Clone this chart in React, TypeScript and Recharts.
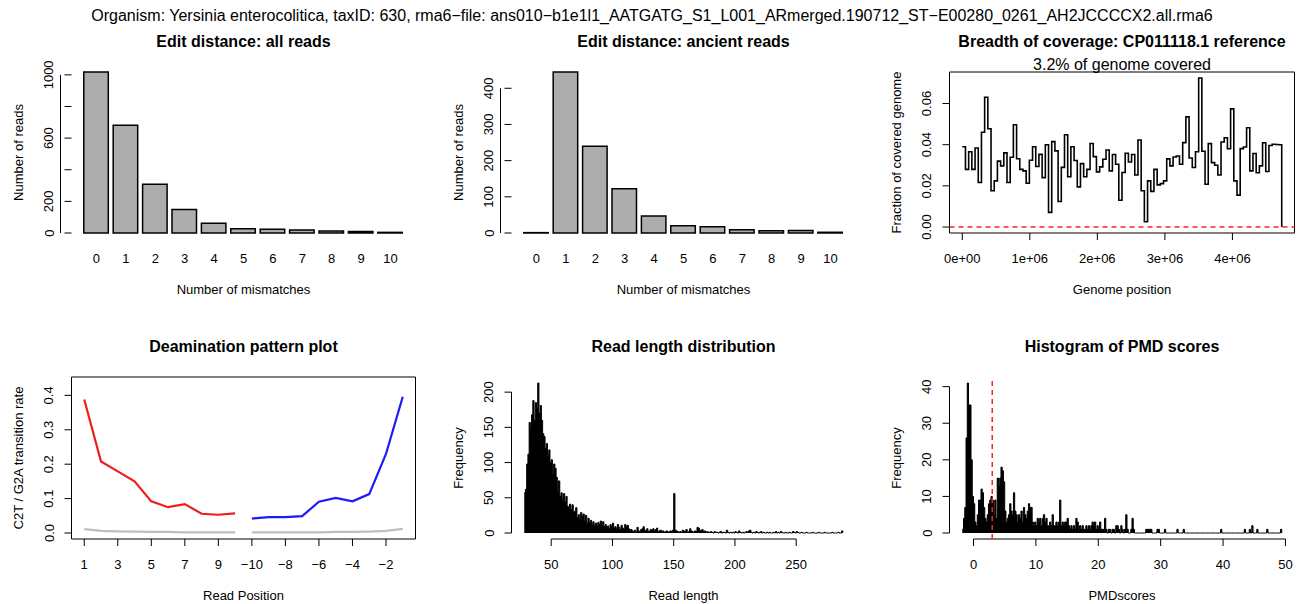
import React from 'react';
import {
  ComposedChart,
  Bar,
  Line,
  Area,
  XAxis,
  YAxis,
  ReferenceLine,
  ReferenceArea,
} from 'recharts';

const W = 1304;
const H = 604;
const FONT = '"Liberation Sans", Arial, Helvetica, sans-serif';

// Edit distance (barplots)
const mismatchLabels = ['0', '1', '2', '3', '4', '5', '6', '7', '8', '9', '10'];
const allReadCounts = [1018, 681, 308, 148, 62, 27, 23, 19, 13, 10, 4];
const ancientReadCounts = [1, 445, 240, 122, 47, 20, 17, 9, 6, 7, 2];
const allReadTicks = [0, 200, 400, 600, 800, 1000];
const allReadTickLabels = ['0', '200', '', '600', '', '1000'];
const ancientTicks = [0, 100, 200, 300, 400];
const ancientTickLabels = ['0', '100', '200', '300', '400'];

// Breadth of coverage (one value per genome bin)
const coverageBinWidth = 47300;
const coverageFraction = [
  0.039, 0.028, 0.0366, 0.028, 0.0384, 0.0216, 0.046, 0.063, 0.0477, 0.0176,
  0.0224, 0.032, 0.0297, 0.036, 0.0216, 0.0339, 0.0497, 0.0332, 0.028, 0.0273,
  0.0213, 0.0324, 0.039, 0.0294, 0.0353, 0.024, 0.04, 0.0071, 0.0415, 0.037,
  0.0124, 0.029, 0.0448, 0.0244, 0.039, 0.0323, 0.0195, 0.0308, 0.0244, 0.028,
  0.0406, 0.0342, 0.0268, 0.0292, 0.0329, 0.0374, 0.0273, 0.0352, 0.0305, 0.013,
  0.0265, 0.0358, 0.0316, 0.0352, 0.0253, 0.0423, 0.0176, 0.0026, 0.0224, 0.0173,
  0.028, 0.0205, 0.0211, 0.0224, 0.0331, 0.0297, 0.034, 0.0345, 0.0305, 0.041,
  0.0535, 0.0335, 0.0289, 0.0366, 0.0724, 0.0368, 0.0208, 0.0405, 0.0313, 0.03,
  0.0253, 0.0413, 0.0434, 0.038, 0.0574, 0.0224, 0.0155, 0.0381, 0.0389, 0.0482,
  0.0273, 0.0357, 0.0264, 0.0297, 0.0409, 0.027, 0.0396, 0.0402, 0.0401, 0.04,
];
const coverageXTicks = [0, 1e6, 2e6, 3e6, 4e6];
const coverageXTickLabels = ['0e+00', '1e+06', '2e+06', '3e+06', '4e+06'];
const coverageYTicks = [0, 0.02, 0.04, 0.06];
const coverageYTickLabels = ['0.00', '0.02', '0.04', '0.06'];

// Deamination pattern
const readPositions = [1, 2, 3, 4, 5, 6, 7, 8, 9, 10, 11, 12, 13, 14, 15, 16, 17, 18, 19, 20];
const c2tRate = [0.388, 0.208, 0.179, 0.15, 0.092, 0.075, 0.084, 0.056, 0.053, 0.057];
const g2aRate = [0.042, 0.046, 0.046, 0.049, 0.091, 0.102, 0.092, 0.113, 0.23, 0.396];
const c2tOther = [0.011, 0.006, 0.005, 0.004, 0.003, 0.003, 0.002, 0.002, 0.002, 0.002];
const g2aOther = [0.002, 0.002, 0.002, 0.002, 0.002, 0.003, 0.003, 0.004, 0.006, 0.012];
const deamYMax = 0.436;
const deamXTicks = [1, 3, 5, 7, 9, 11, 13, 15, 17, 19];
const deamXTickLabels = ['1', '3', '5', '7', '9', '\u221210', '\u22128', '\u22126', '\u22124', '\u22122'];
const deamYTicks = [0, 0.1, 0.2, 0.3, 0.4];
const deamYTickLabels = ['0.0', '0.1', '0.2', '0.3', '0.4'];

// Read length histogram (bins of 1, first bin starts at 28)
const readLengthFirst = 28;
const readLengthCounts = [
  57, 62, 98, 112, 157, 150, 168, 188, 160, 185,
  176, 213, 170, 181, 160, 141, 137, 120, 127, 110,
  118, 100, 104, 85, 98, 92, 79, 60, 74, 52,
  57, 48, 56, 44, 52, 38, 35, 41, 33, 40,
  29, 31, 36, 22, 26, 20, 29, 24, 27, 18,
  25, 14, 21, 15, 18, 12, 16, 11, 14, 10,
  15, 12, 17, 11, 16, 9, 12, 8, 10, 6,
  12, 9, 14, 7, 9, 6, 12, 8, 5, 11,
  7, 5, 12, 9, 11, 6, 4, 5, 3, 2,
  4, 1, 8, 3, 2, 5, 6, 9, 4, 3,
  6, 2, 3, 5, 4, 6, 3, 5, 7, 2,
  3, 4, 2, 3, 1, 2, 3, 1, 2, 3,
  2, 4, 56, 4, 3, 2, 1, 2, 1, 4,
  3, 2, 5, 1, 2, 6, 3, 2, 1, 3,
  2, 8, 7, 4, 3, 5, 2, 3, 1, 2,
  1, 1, 2, 1, 0, 2, 1, 1, 0, 1,
  2, 0, 1, 1, 0, 4, 1, 0, 1, 0,
  1, 0, 2, 1, 0, 3, 1, 0, 1, 0,
  1, 2, 1, 3, 4, 1, 0, 1, 0, 2,
  1, 0, 1, 2, 0, 1, 0, 0, 1, 0,
  1, 0, 0, 1, 0, 2, 0, 1, 0, 2,
  1, 0, 0, 1, 0, 0, 1, 0, 0, 2,
  1, 0, 2, 1, 0, 0, 1, 0, 0, 0,
  1, 0, 0, 0, 0, 1, 0, 0, 0, 0,
  1, 0, 0, 0, 0, 1, 0, 0, 0, 0,
  0, 1, 0, 0, 0, 0, 1, 0, 0, 3,
];
const readLengthXTicks = [50, 100, 150, 200, 250];
const readLengthYTicks = [0, 50, 100, 150, 200];

// PMD score histogram (bins of 0.2, first bin starts at -1.8)
const pmdFirst = -1.8;
const pmdBinWidth = 0.2;
const pmdThreshold = 3;
const pmdCounts = [
  1, 4, 7, 26, 41, 35, 35, 20, 10, 8,
  3, 2, 5, 9, 9, 12, 11, 7, 4, 3,
  5, 8, 9, 10, 9, 5, 9, 4, 15, 13,
  15, 18, 17, 14, 6, 3, 4, 5, 8, 6,
  5, 11, 6, 5, 3, 5, 4, 6, 3, 7,
  5, 4, 6, 8, 7, 7, 3, 2, 3, 2,
  4, 3, 4, 2, 4, 5, 3, 4, 2, 2,
  3, 2, 5, 2, 2, 3, 2, 3, 9, 2,
  3, 2, 3, 3, 4, 2, 1, 2, 1, 2,
  1, 4, 3, 1, 2, 1, 2, 1, 1, 2,
  1, 2, 1, 2, 3, 2, 3, 1, 2, 1,
  3, 1, 1, 1, 4, 1, 0, 1, 1, 0,
  1, 1, 0, 2, 2, 1, 0, 2, 1, 0,
  1, 5, 1, 0, 0, 1, 4, 1, 0, 0,
  0, 0, 0, 0, 0, 0, 0, 1, 1, 1,
  1, 1, 0, 0, 0, 0, 1, 1, 0, 0,
  0, 0, 1, 0, 0, 0, 0, 0, 0, 0,
  0, 0, 1, 0, 0, 0, 0, 1, 0, 0,
  0, 0, 0, 0, 0, 0, 0, 0, 0, 0,
  0, 0, 0, 0, 0, 0, 0, 0, 0, 0,
  0, 0, 0, 0, 0, 0, 0, 1, 0, 0,
  0, 0, 0, 0, 0, 0, 0, 0, 0, 0,
  0, 0, 0, 0, 0, 0, 1, 0, 0, 0,
  1, 0, 2, 0, 0, 0, 1, 0, 0, 0,
  0, 0, 0, 0, 1, 0, 0, 0, 0, 0,
  0, 0, 0, 0, 0, 1,
];
const pmdXTicks = [0, 10, 20, 30, 40, 50];
const pmdYTicks = [0, 10, 20, 30, 40];

// ---- layout (plot regions, px) ----
const COLS: [number, number][] = [[71.5, 415.5], [511.5, 855.5], [949.5, 1294.5]];
const ROWS: [number, number][] = [[72, 233], [377, 539]];
const YAXW = 40;
const XAXH = 40;
const TICK = 7;

const marginFor = (c: number, r: number) => ({
  top: ROWS[r][0],
  bottom: H - ROWS[r][1] - XAXH,
  left: COLS[c][0] - YAXW,
  right: W - COLS[c][1],
});

// R style "r" axis range: 4% extension on both sides
const ext = (lo: number, hi: number): [number, number] => {
  const d = (hi - lo) * 0.04;
  return [lo - d, hi + d];
};

const labelOf = (ticks: any[], labels: string[]) => (v: any) => {
  const i = ticks.indexOf(v);
  return i >= 0 ? labels[i] : String(v);
};

const xTick = (fmt: (v: any) => string, mark = true) => (p: any) => (
  <g>
    {mark && <line x1={p.x} y1={p.y} x2={p.x} y2={p.y + TICK} stroke="#000" strokeWidth={1} />}
    <text x={p.x} y={p.y + 29.5} textAnchor="middle" fontSize={13} fontFamily={FONT} fill="#000">
      {fmt(p.payload.value)}
    </text>
  </g>
);

const yTick = (fmt: (v: any) => string) => (p: any) => {
  const label = fmt(p.payload.value);
  const tx = p.x - 18;
  return (
    <g>
      <line x1={p.x - TICK} y1={p.y} x2={p.x} y2={p.y} stroke="#000" strokeWidth={1} />
      {label !== '' && (
        <text
          x={tx}
          y={p.y}
          transform={`rotate(-90 ${tx} ${p.y})`}
          textAnchor="middle"
          fontSize={13}
          fontFamily={FONT}
          fill="#000"
        >
          {label}
        </text>
      )}
    </g>
  );
};

const axisBase = {
  axisLine: false,
  tickLine: false,
  tickSize: 0,
  tickMargin: 0,
  interval: 0 as const,
};

const Layer: React.FC<{ children: React.ReactNode }> = ({ children }) => (
  <div style={{ position: 'absolute', left: 0, top: 0, width: W, height: H }}>{children}</div>
);

// ---- barplot panel ----
const EditDistance: React.FC<{
  col: number;
  counts: number[];
  ticks: number[];
  tickLabels: string[];
}> = ({ col, counts, ticks, tickLabels }) => {
  const data = mismatchLabels.map((m, i) => ({ mm: m, n: counts[i] }));
  const nBars = counts.length;
  const xRange = ext(0.2, 0.2 + 1.2 * nBars - 0.2);
  const unitPx = (COLS[col][1] - COLS[col][0]) / (xRange[1] - xRange[0]);
  const pad = (0.1 - xRange[0]) * unitPx;
  const yMax = Math.max(...counts);
  return (
    <Layer>
      <ComposedChart width={W} height={H} margin={marginFor(col, 0)} data={data}>
        <XAxis
          xAxisId="cat"
          dataKey="mm"
          type="category"
          padding={{ left: pad, right: pad }}
          height={XAXH}
          tick={xTick((v) => String(v), false)}
          {...axisBase}
        />
        <XAxis xAxisId="num" type="number" domain={xRange} allowDataOverflow hide />
        <YAxis
          type="number"
          domain={[0, yMax]}
          ticks={ticks}
          width={YAXW}
          tick={yTick(labelOf(ticks, tickLabels))}
          {...axisBase}
        />
        <Bar
          xAxisId="cat"
          dataKey="n"
          fill="#adadad"
          stroke="#000"
          strokeWidth={1.5}
          barSize={unitPx}
          isAnimationActive={false}
        />
        <ReferenceLine
          xAxisId="num"
          segment={[
            { x: xRange[0], y: ticks[0] },
            { x: xRange[0], y: ticks[ticks.length - 1] },
          ]}
          stroke="#000"
          strokeWidth={1}
          ifOverflow="visible"
        />
      </ComposedChart>
    </Layer>
  );
};

// ---- coverage panel ----
const Coverage: React.FC = () => {
  const n = coverageFraction.length;
  const data = [
    ...coverageFraction.map((f, i) => ({ pos: i * coverageBinWidth, f })),
    { pos: n * coverageBinWidth, f: 0 },
  ];
  const xDom = ext(0, n * coverageBinWidth);
  const yDom = ext(0, Math.max(...coverageFraction));
  return (
    <Layer>
      <ComposedChart width={W} height={H} margin={marginFor(2, 0)} data={data}>
        <XAxis
          dataKey="pos"
          type="number"
          domain={xDom}
          ticks={coverageXTicks}
          allowDataOverflow
          height={XAXH}
          tick={xTick(labelOf(coverageXTicks, coverageXTickLabels))}
          {...axisBase}
        />
        <YAxis
          type="number"
          domain={yDom}
          ticks={coverageYTicks}
          allowDataOverflow
          width={YAXW}
          tick={yTick(labelOf(coverageYTicks, coverageYTickLabels))}
          {...axisBase}
        />
        <ReferenceArea
          x1={xDom[0]}
          x2={xDom[1]}
          y1={yDom[0]}
          y2={yDom[1]}
          fill="none"
          stroke="#000"
          strokeWidth={1}
          ifOverflow="visible"
        />
        <ReferenceLine y={0} stroke="#ff2020" strokeWidth={1.5} strokeDasharray="5 4" />
        <Line
          dataKey="f"
          type="stepAfter"
          stroke="#000"
          strokeWidth={1.6}
          dot={false}
          isAnimationActive={false}
        />
      </ComposedChart>
    </Layer>
  );
};

// ---- deamination panel ----
const Deamination: React.FC = () => {
  const data = readPositions.map((p, i) => ({
    pos: p,
    c2t: i < 10 ? c2tRate[i] : null,
    g2a: i >= 10 ? g2aRate[i - 10] : null,
    c2tBg: i < 10 ? c2tOther[i] : null,
    g2aBg: i >= 10 ? g2aOther[i - 10] : null,
  }));
  const xDom = ext(readPositions[0], readPositions[readPositions.length - 1]);
  const yDom = ext(0, deamYMax);
  const lineProps = { type: 'linear' as const, dot: false, isAnimationActive: false, strokeWidth: 2.2 };
  return (
    <Layer>
      <ComposedChart width={W} height={H} margin={marginFor(0, 1)} data={data}>
        <XAxis
          dataKey="pos"
          type="number"
          domain={xDom}
          ticks={deamXTicks}
          allowDataOverflow
          height={XAXH}
          tick={xTick(labelOf(deamXTicks, deamXTickLabels))}
          {...axisBase}
        />
        <YAxis
          type="number"
          domain={yDom}
          ticks={deamYTicks}
          allowDataOverflow
          width={YAXW}
          tick={yTick(labelOf(deamYTicks, deamYTickLabels))}
          {...axisBase}
        />
        <ReferenceArea
          x1={xDom[0]}
          x2={xDom[1]}
          y1={yDom[0]}
          y2={yDom[1]}
          fill="none"
          stroke="#000"
          strokeWidth={1}
          ifOverflow="visible"
        />
        <Line dataKey="c2tBg" stroke="#bebebe" {...lineProps} />
        <Line dataKey="g2aBg" stroke="#bebebe" {...lineProps} />
        <Line dataKey="c2t" stroke="#f01c1c" {...lineProps} />
        <Line dataKey="g2a" stroke="#1c1cf5" {...lineProps} />
      </ComposedChart>
    </Layer>
  );
};

// ---- histogram panel ----
const Histogram: React.FC<{
  col: number;
  first: number;
  binWidth: number;
  counts: number[];
  xTicks: number[];
  yTicks: number[];
  threshold?: number;
}> = ({ col, first, binWidth, counts, xTicks, yTicks, threshold }) => {
  const n = counts.length;
  const data = [
    ...counts.map((c, i) => ({ x: +(first + i * binWidth).toFixed(2), c })),
    { x: +(first + n * binWidth).toFixed(2), c: 0 },
  ];
  const xDom = ext(first, first + n * binWidth);
  const yDom = ext(0, Math.max(...counts));
  return (
    <Layer>
      <ComposedChart width={W} height={H} margin={marginFor(col, 1)} data={data}>
        <XAxis
          dataKey="x"
          type="number"
          domain={xDom}
          ticks={xTicks}
          allowDataOverflow
          height={XAXH}
          tick={xTick((v) => String(v))}
          {...axisBase}
        />
        <YAxis
          type="number"
          domain={yDom}
          ticks={yTicks}
          allowDataOverflow
          width={YAXW}
          tick={yTick((v) => String(v))}
          {...axisBase}
        />
        <Area
          dataKey="c"
          type="stepAfter"
          baseValue={0}
          fill="#000"
          fillOpacity={1}
          stroke="#000"
          strokeWidth={1}
          isAnimationActive={false}
        />
        <ReferenceLine
          segment={[
            { x: xTicks[0], y: yDom[0] },
            { x: xTicks[xTicks.length - 1], y: yDom[0] },
          ]}
          stroke="#000"
          strokeWidth={1}
          ifOverflow="visible"
        />
        <ReferenceLine
          segment={[
            { x: xDom[0], y: yTicks[0] },
            { x: xDom[0], y: yTicks[yTicks.length - 1] },
          ]}
          stroke="#000"
          strokeWidth={1}
          ifOverflow="visible"
        />
        {threshold !== undefined && (
          <ReferenceLine x={threshold} stroke="#ff2020" strokeWidth={1.5} strokeDasharray="5 4" />
        )}
      </ComposedChart>
    </Layer>
  );
};

// ---- titles and axis labels ----
const colMid = (c: number) => (COLS[c][0] + COLS[c][1]) / 2;
const rowMid = (r: number) => (ROWS[r][0] + ROWS[r][1]) / 2;

const panelText = [
  { c: 0, r: 0, title: 'Edit distance: all reads', x: 'Number of mismatches', y: 'Number of reads' },
  { c: 1, r: 0, title: 'Edit distance: ancient reads', x: 'Number of mismatches', y: 'Number of reads' },
  { c: 2, r: 0, title: 'Breadth of coverage: CP011118.1 reference', x: 'Genome position', y: 'Fraction of covered genome' },
  { c: 0, r: 1, title: 'Deamination pattern plot', x: 'Read Position', y: 'C2T / G2A transition rate' },
  { c: 1, r: 1, title: 'Read length distribution', x: 'Read length', y: 'Frequency' },
  { c: 2, r: 1, title: 'Histogram of PMD scores', x: 'PMDscores', y: 'Frequency' },
];

const mainTitle =
  'Organism: Yersinia enterocolitica, taxID: 630, rma6\u2212file: ans010\u2212b1e1l1_AATGATG_S1_L001_ARmerged.190712_ST\u2212E00280_0261_AH2JCCCCX2.all.rma6';
const coverageSubtitle = '3.2% of genome covered';

const Labels: React.FC = () => (
  <svg width={W} height={H} style={{ position: 'absolute', left: 0, top: 0, pointerEvents: 'none' }}>
    <g fontFamily={FONT} fill="#000">
      <text x={W / 2} y={21} textAnchor="middle" fontSize={16}>
        {mainTitle}
      </text>
      <text x={colMid(2)} y={ROWS[0][0] - 2.5} textAnchor="middle" fontSize={16}>
        {coverageSubtitle}
      </text>
      {panelText.map((p) => {
        const yx = COLS[p.c][0] - 48.5;
        const yy = rowMid(p.r);
        return (
          <g key={p.title}>
            <text x={colMid(p.c)} y={ROWS[p.r][0] - 25} textAnchor="middle" fontSize={16} fontWeight="bold">
              {p.title}
            </text>
            <text x={colMid(p.c)} y={ROWS[p.r][1] + 60.5} textAnchor="middle" fontSize={13}>
              {p.x}
            </text>
            <text x={yx} y={yy} transform={`rotate(-90 ${yx} ${yy})`} textAnchor="middle" fontSize={13}>
              {p.y}
            </text>
          </g>
        );
      })}
    </g>
  </svg>
);

export default function App() {
  return (
    <div style={{ position: 'absolute', left: 0, top: 0, width: W, height: H, background: '#fff', overflow: 'hidden' }}>
      <EditDistance col={0} counts={allReadCounts} ticks={allReadTicks} tickLabels={allReadTickLabels} />
      <EditDistance col={1} counts={ancientReadCounts} ticks={ancientTicks} tickLabels={ancientTickLabels} />
      <Coverage />
      <Deamination />
      <Histogram
        col={1}
        first={readLengthFirst}
        binWidth={1}
        counts={readLengthCounts}
        xTicks={readLengthXTicks}
        yTicks={readLengthYTicks}
      />
      <Histogram
        col={2}
        first={pmdFirst}
        binWidth={pmdBinWidth}
        counts={pmdCounts}
        xTicks={pmdXTicks}
        yTicks={pmdYTicks}
        threshold={pmdThreshold}
      />
      <Labels />
    </div>
  );
}
